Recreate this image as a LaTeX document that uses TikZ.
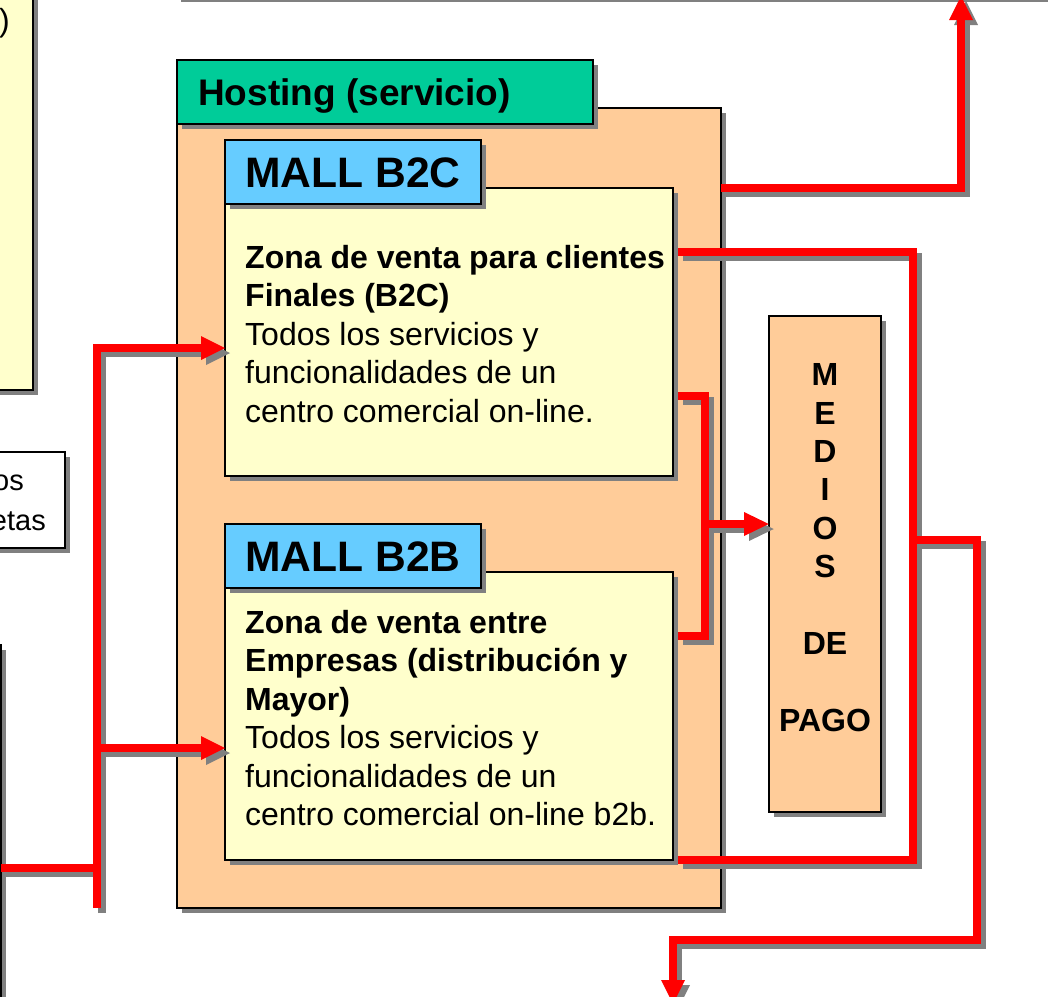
\documentclass[tikz,border=0pt]{standalone}
\usepackage{fontspec}
\setmainfont{Liberation Sans}
\usetikzlibrary{calc}
\definecolor{peach}{RGB}{255,204,153}
\definecolor{cream}{RGB}{255,255,204}
\definecolor{hostgreen}{RGB}{0,204,153}
\definecolor{sky}{RGB}{102,204,255}
\definecolor{shadowgrey}{RGB}{128,128,128}
\definecolor{wire}{RGB}{255,0,0}
\newcommand{\shbox}[6]{% name, x1, y1, x2, y2, fill
  \fill[shadowgrey] (#2+5,#3+5) rectangle (#4+5,#5+5);
  \node[boxbase,fill=#6,minimum width=#4-#2,minimum height=#5-#3,anchor=north west] (#1) at (#2-0.25,#3-0.25) {};
}
\newcommand{\allwires}[1]{%
  \draw[#1] (hostbody.east |- 0,188) -- (961,188) -- (upEnd);
  \draw[#1] (678,252) -- (913,252) -- (913,860) -- (678,860);
  \draw[#1] (678,396) -- (705,396) -- (705,636) -- (678,636);
  \draw[#1] (midJoin) -- (746,524);
  \draw[#1] (913,540) -- (977,540) -- (977,940) -- (673,940) -- (drop);
  \draw[#1] (trunkBot) -- (trunkTop) -- (202,348);
  \draw[#1] (97,748) -- (202,748);
  \draw[#1] (1,868) -- (97,868);
}
\newcommand{\allheads}[1]{%
  \fill[#1] (225,348) -- (201,360) -- (201,336) -- cycle;
  \fill[#1] (225,748) -- (201,760) -- (201,736) -- cycle;
  \fill[#1] (medios.west |- 0,524) -- (744,536) -- (744,512) -- cycle;
  \fill[#1] (961,-4) -- (973,20) -- (949,20) -- cycle;
  \fill[#1] (673,1004) -- (685,980) -- (661,980) -- cycle;
}
\tikzset{
  x=1pt,y=-1pt,
  boxbase/.style={draw=black,line width=2pt,inner sep=0pt,outer sep=0pt},
  wirestyle/.style={draw=wire,line width=8pt,line join=miter},
  wireshadow/.style={draw=shadowgrey,line width=8pt,line join=miter,transform canvas={shift={(5,5)}}},
  tipwire/.style={fill=wire},
  tipshadow/.style={fill=shadowgrey,transform canvas={shift={(5,5)}}},
  bodytext/.style={anchor=north west,align=left,inner sep=0pt,font=\fontsize{32}{38.5}\selectfont},
  headtext/.style={anchor=west,inner sep=0pt,font=\bfseries\fontsize{42.6}{48}\selectfont},
}
\begin{document}
\begin{tikzpicture}
\useasboundingbox (0,0) rectangle (1048,996);
\fill[white] (0,0) rectangle (1048,996);
% top rule
\fill[shadowgrey] (181,-2) rectangle (1048,2);
% left boxes (cropped)
\shbox{leftyellow}{-20}{-20}{33}{390}{cream}
\node[anchor=east,inner sep=0pt,font=\fontsize{32}{36}\selectfont] (ltop) at (10,23) {)};
\shbox{leftwhite}{-20}{452}{65}{548}{white}
\node[anchor=east,inner sep=0pt,font=\fontsize{29}{36}\selectfont] (los) at (24,483) {os};
\node[anchor=east,inner sep=0pt,font=\fontsize{29}{36}\selectfont] (etas) at (46,521) {etas};
\shbox{leftdark}{-20}{645}{1}{1016}{white}
% hosting
\shbox{hostbody}{177}{108}{721}{908}{peach}
\shbox{hosthead}{177}{60}{593}{124}{hostgreen}
\node[anchor=west,inner sep=0pt,font=\bfseries\fontsize{37}{42}\selectfont] (hosttext) at (198,96.5) {Hosting (servicio)};
% B2C
\shbox{bcbody}{225}{188}{673}{476}{cream}
\shbox{bchead}{225}{140}{481}{204}{sky}
\node[headtext] (bctitle) at (245,173) {MALL B2C};
\node[bodytext] (bctext) at (245,245) {\textbf{Zona de venta para clientes}\\\textbf{Finales (B2C)}\\Todos los servicios y\\funcionalidades de un\\centro comercial on-line.};
% B2B
\shbox{bbbody}{225}{572}{673}{860}{cream}
\shbox{bbhead}{225}{524}{481}{588}{sky}
\node[headtext] (bbtitle) at (245,557) {MALL B2B};
\node[bodytext] (bbtext) at (245,610) {\textbf{Zona de venta entre}\\\textbf{Empresas (distribución y}\\\textbf{Mayor)}\\Todos los servicios y\\funcionalidades de un\\centro comercial on-line b2b.};
% medios
\shbox{medios}{769}{316}{881}{812}{peach}
\node[anchor=north,align=center,inner sep=0pt,font=\bfseries\fontsize{32}{38.4}\selectfont] (mediostext) at (825,363.5) {M\\E\\D\\I\\O\\S\\[38.4pt]DE\\[38.4pt]PAGO};
% connector anchors
\coordinate (upEnd) at (961,18);
\coordinate (trunkTop) at (97,348);
\coordinate (trunkBot) at (97,908);
\coordinate (midJoin) at (705,524);
\coordinate (drop) at (673,982);
% connectors: shadows first, then red
\allwires{wireshadow}
\allheads{tipshadow}
\allwires{wirestyle}
\allheads{tipwire}
\end{tikzpicture}
\end{document}
